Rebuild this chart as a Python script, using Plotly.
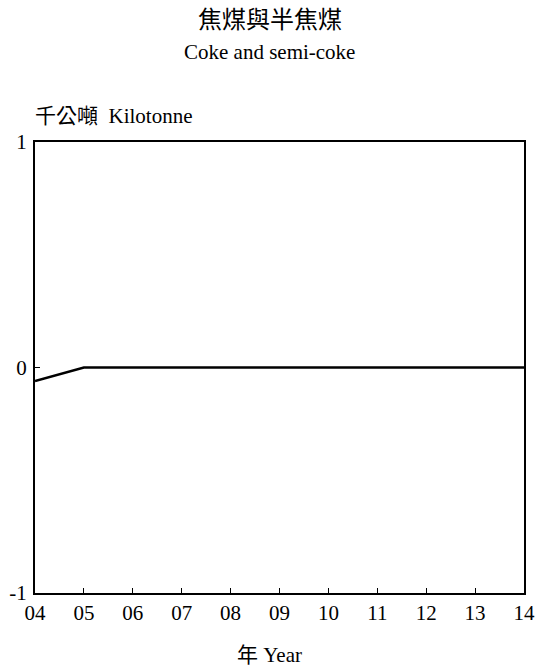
import plotly.graph_objects as go

years = [2004, 2005, 2006, 2007, 2008, 2009, 2010, 2011, 2012, 2013, 2014]
tick_labels = ["04", "05", "06", "07", "08", "09", "10", "11", "12", "13", "14"]
values = [-0.06, 0, 0, 0, 0, 0, 0, 0, 0, 0, 0]
y_ticks = [-1, 0, 1]

SERIF = "Liberation Serif, Times New Roman, serif"
CJK = "Liberation Serif, Noto Sans CJK TC, serif"

plot_l, plot_r, plot_t, plot_b = 35, 524, 142, 593
W, H = 539, 670

fig = go.Figure()
fig.add_trace(go.Scatter(x=years, y=values, mode="lines",
                         line=dict(color="black", width=2.5), showlegend=False))

fig.update_layout(
    width=W, height=H,
    margin=dict(l=plot_l, r=W - plot_r, t=plot_t, b=H - plot_b, autoexpand=False),
    plot_bgcolor="white", paper_bgcolor="white",
    font=dict(family=SERIF, size=20, color="black"),
    xaxis=dict(range=[2004, 2014], tickvals=years, ticktext=tick_labels,
               showgrid=False, zeroline=False, showline=True, linecolor="black",
               linewidth=2, mirror=True, ticks="inside", ticklen=5,
               tickcolor="black", tickwidth=1, automargin=False,
               tickfont=dict(size=21, family=SERIF)),
    yaxis=dict(range=[-1, 1], tickvals=y_ticks, ticktext=["-1", "0", "1"],
               showgrid=False, zeroline=False, showline=True, linecolor="black",
               linewidth=2, mirror=True, ticks="inside", ticklen=5,
               tickcolor="black", tickwidth=1, automargin=False, ticklabelstandoff=2,
               tickfont=dict(size=21, family=SERIF)),
)


def px(x):
    return (x - plot_l) / (plot_r - plot_l)


def py(y):
    return (plot_b - y) / (plot_b - plot_t)


annots = [
    dict(text="焦煤與半焦煤", x=269.5, y=20, size=24),
    dict(text="Coke and semi-coke", x=269.5, y=52, size=21),
    dict(text="年 Year", x=269.5, y=655, size=21),
]
for a in annots:
    fig.add_annotation(text=a["text"], x=px(a["x"]), y=py(a["y"]),
                       xref="paper", yref="paper", xanchor="center", yanchor="middle",
                       showarrow=False, font=dict(size=a["size"], family=CJK))
fig.add_annotation(text="千公噸  Kilotonne", x=px(33), y=py(116),
                   xref="paper", yref="paper", xanchor="left", yanchor="middle",
                   showarrow=False, font=dict(size=21, family=CJK))

fig.write_html("out.html", config={"displayModeBar": False},
               post_script="document.body.style.margin='0';document.body.style.overflow='hidden';")
